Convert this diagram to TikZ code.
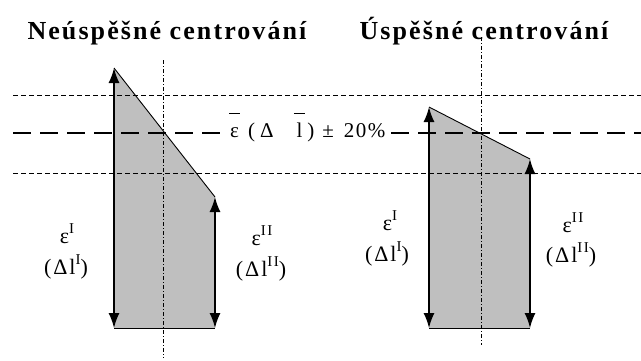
\documentclass[tikz,border=0pt]{standalone}
\usepackage{fontspec}
\setmainfont{Liberation Serif}
\usetikzlibrary{arrows.meta}

\newcommand{\barred}[2]{\setbox0\hbox{#1}\rlap{\hbox to\wd0{\hss\rule[1.12em]{#2}{0.7pt}\hss}}\box0\relax}
\newcommand{\up}[1]{\raisebox{0.42em}{\fontsize{15}{15}\selectfont #1}}

\begin{document}
\begin{tikzpicture}[x=1pt, y=-1pt,
    arr/.style = {{Latex[length=15pt,width=11pt]}-{Latex[length=15pt,width=11pt]}, line width=1.5pt},
    area/.style = {fill=black!25},
    edge/.style = {line width=0.9pt},
    guide/.style = {dash pattern=on 5pt off 3pt, line width=0.7pt},
    level/.style = {dash pattern=on 18pt off 9pt, line width=2.8pt},
    axisline/.style = {dash pattern=on 4pt off 2pt on 1pt off 2pt, line width=0.6pt},
    lab/.style = {font=\fontsize{22}{24}\selectfont\addfontfeature{LetterSpace=9}, anchor=base, inner sep=1pt},
    head/.style = {font=\fontsize{26}{28}\selectfont\bfseries\addfontfeature{LetterSpace=8}, anchor=base}]
  \useasboundingbox (0,0) rectangle (641,360);

  % left shape
  \coordinate (la) at (114,68);
  \coordinate (lb) at (215,197);
  \coordinate (lc) at (215,328);
  \coordinate (ld) at (114,328);
  % right shape
  \coordinate (ra) at (429,107);
  \coordinate (rb) at (530,159);
  \coordinate (rc) at (530,328);
  \coordinate (rd) at (429,328);

  \fill[area] (la) -- (lb) -- (lc) -- (ld) -- cycle;
  \fill[area] (ra) -- (rb) -- (rc) -- (rd) -- cycle;

  % guide lines
  \coordinate (g1) at (13,95);
  \coordinate (g2) at (641,95);
  \coordinate (g3) at (13,173);
  \coordinate (g4) at (641,173);
  \coordinate (m1) at (13,133);
  \coordinate (m2) at (641,133);
  \draw[guide] (g1) -- (g2);
  \draw[guide] (g3) -- (g4);
  \draw[level] (m1) -- (m2);

  % axes
  \coordinate (lt) at (163,60);
  \coordinate (lu) at (163,358);
  \coordinate (rt) at (481,37);
  \coordinate (ru) at (481,345);
  \draw[axisline] (lt) -- (lu);
  \draw[axisline] (rt) -- (ru);

  % outlines
  \draw[edge] (la) -- (lb);
  \draw[edge] (ld) -- (lc);
  \draw[edge] (ra) -- (rb);
  \draw[edge] (rd) -- (rc);
  \draw[arr] (la) -- (ld);
  \draw[arr] (lb) -- (lc);
  \draw[arr] (ra) -- (rd);
  \draw[arr] (rb) -- (rc);

  % texts
  \node[head] (lhead) at (167,39) {Neúspěšné centrování};
  \node[head] (rhead) at (484,39) {Úspěšné centrování};
  \node[anchor=base west, fill=white, inner xsep=5pt, inner ysep=3pt, font=\fontsize{21}{23}\selectfont] (mean) at (225,137)
    {\barred{ε}{11pt}\hspace{9pt}(\hspace{5pt}Δ\hspace{23pt}\barred{l}{11pt}\hspace{5pt})\hspace{8pt}±\hspace{10pt}2\hspace{1.5pt}0\hspace{1.5pt}\%};
  \node[lab] (l1e) at (67,243) {ε\up{I}};
  \node[lab] (l1d) at (66,274) {(Δl\up{I})};
  \node[lab] (l2e) at (262,245) {ε\up{II}};
  \node[lab] (l2d) at (261,276) {(Δl\up{II})};
  \node[lab] (r1e) at (390,230) {ε\up{I}};
  \node[lab] (r1d) at (387,261) {(Δl\up{I})};
  \node[lab] (r2e) at (573,232) {ε\up{II}};
  \node[lab] (r2d) at (571,262) {(Δl\up{II})};
\end{tikzpicture}
\end{document}
